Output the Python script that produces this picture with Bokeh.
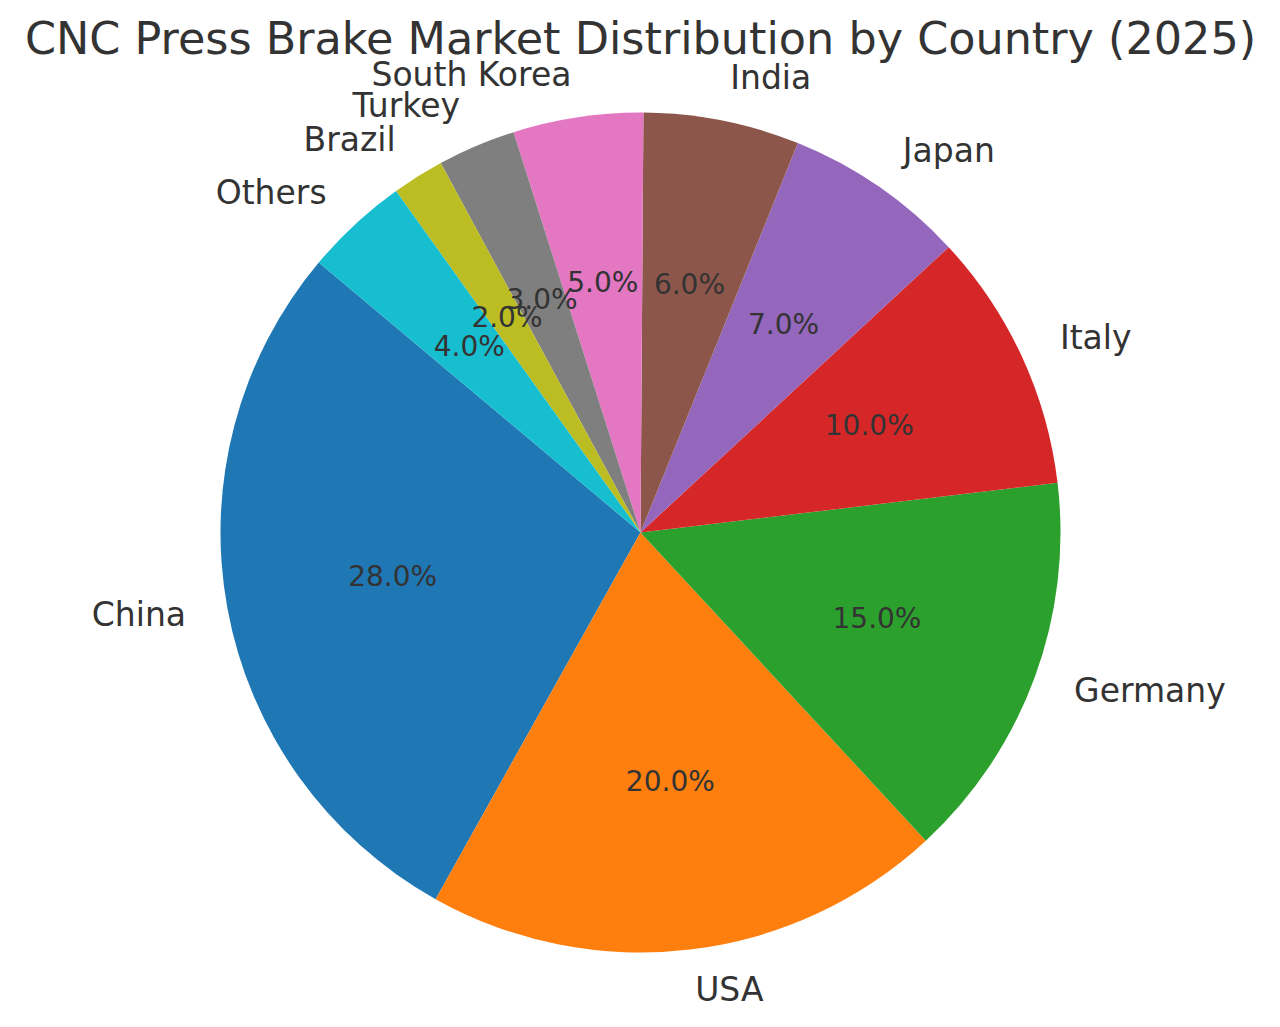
import math
from bokeh.plotting import figure
from bokeh.models import Range1d, ColumnDataSource
from bokeh.core.properties import value
from bokeh.embed import file_html
from bokeh.resources import INLINE

countries = ["China", "USA", "Germany", "Italy", "Japan", "India",
             "South Korea", "Turkey", "Brazil", "Others"]
shares = [28, 20, 15, 10, 7, 6, 5, 3, 2, 4]
colors = ["#1f77b4", "#ff7f0e", "#2ca02c", "#d62728", "#9467bd",
          "#8c564b", "#e377c2", "#7f7f7f", "#bcbd22", "#17becf"]
title_text = "CNC Press Brake Market Distribution by Country (2025)"

START = 140.0
W, H = 1264, 1011
SCALE = 420.0          # px per unit radius
CX, CY = 640.0, 532.0  # pie centre in figure pixels (from top-left)

total = float(sum(shares))
starts, ends, mids = [], [], []
a = START
for s in shares:
    sweep = 360.0 * s / total
    starts.append(math.radians(a))
    ends.append(math.radians(a + sweep))
    mids.append(a + sweep / 2)
    a += sweep

x0 = -CX / SCALE
x1 = (W - CX) / SCALE
y1 = CY / SCALE
y0 = -(H - CY) / SCALE

p = figure(width=W, height=H, output_backend="svg", toolbar_location=None,
           x_range=Range1d(x0, x1), y_range=Range1d(y0, y1),
           x_axis_type=None, y_axis_type=None, min_border=0,
           outline_line_color=None, background_fill_color="white",
           border_fill_color="white")
p.grid.visible = False

src = ColumnDataSource(dict(start=starts, end=ends, color=colors))
p.wedge(x=0, y=0, radius=1.0, start_angle="start", end_angle="end",
        direction="anticlock", fill_color="color",
        line_color=None, source=src)

# percentage labels
px = [0.6 * math.cos(math.radians(m)) for m in mids]
py = [0.6 * math.sin(math.radians(m)) for m in mids]
pct = ["%.1f%%" % (100.0 * s / total) for s in shares]
p.text(x=px, y=py, text=pct, text_align="center", text_baseline="middle",
       y_offset=-1, text_font=value("DejaVu Sans"), text_font_size="28px",
       text_color="#333333")

# category labels
lx = [1.1 * math.cos(math.radians(m)) for m in mids]
ly = [1.1 * math.sin(math.radians(m)) for m in mids]
left = dict(x=[], y=[], t=[])
right = dict(x=[], y=[], t=[])
for xx, yy, name in zip(lx, ly, countries):
    d = left if xx > 0 else right
    d["x"].append(xx); d["y"].append(yy); d["t"].append(name)
p.text(x="x", y="y", text="t", source=ColumnDataSource(left),
       text_align="left", text_baseline="middle", y_offset=-1.5,
       text_font=value("DejaVu Sans"), text_font_size="33px", text_color="#333333")
p.text(x="x", y="y", text="t", source=ColumnDataSource(right),
       text_align="right", text_baseline="middle", y_offset=-1.5,
       text_font=value("DejaVu Sans"), text_font_size="33px", text_color="#333333")

# title
p.text(x=[0.0], y=[(CY - 38) / SCALE], text=[title_text], text_align="center",
       text_baseline="alphabetic", text_font=value("DejaVu Sans"),
       text_font_size="44.5px", text_color="#333333")

open("out.html", "w").write(file_html(p, INLINE))
